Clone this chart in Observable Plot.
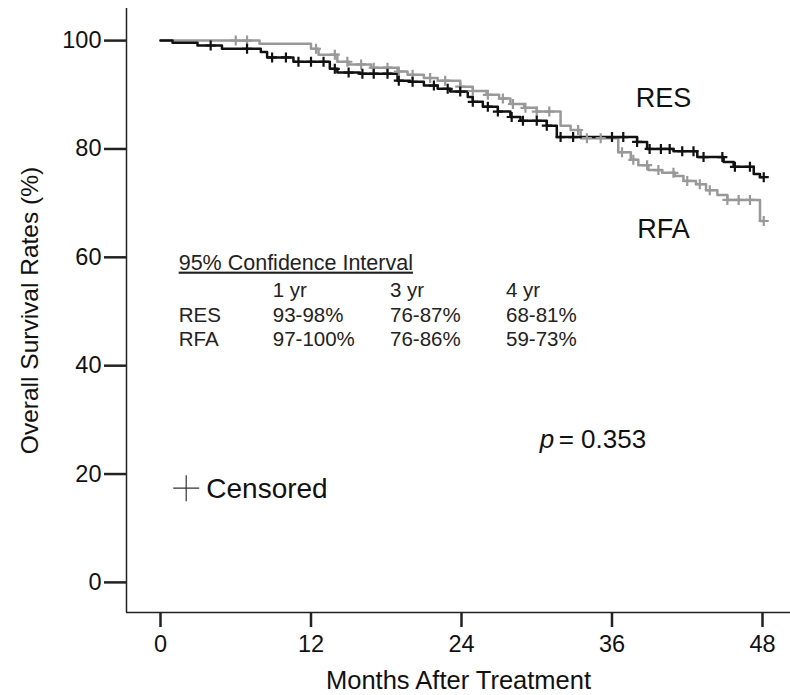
<!DOCTYPE html>
<html><head><meta charset="utf-8">
<script src="https://cdn.jsdelivr.net/npm/d3@7"></script>
<script src="https://cdn.jsdelivr.net/npm/@observablehq/plot@0.6"></script>
<style>
body{margin:0;background:#fff;}
#chart svg{font-family:"Liberation Sans",Arial,sans-serif;background:#fff;}
</style>
</head><body><div id="chart"></div>
<script>
// ---- data ----
const xTicks = [0, 12, 24, 36, 48];
const yTicks = [0, 20, 40, 60, 80, 100];
const xTitle = "Months After Treatment";
const yTitle = "Overall Survival Rates (%)";

// RES (black): event times (months) and survival (%) after each drop
const resTimes = [0.96, 2.95, 4.9, 8.0, 8.5, 10.6, 13.5, 14.1, 15.9, 18.9, 19.9, 21.0, 22.1, 23.1, 24.5, 24.9, 25.7, 26.9, 27.9, 28.7, 30.8, 31.6, 38.0, 38.8, 40.9, 42.8, 44.9, 45.7, 47.3, 47.8];
const resSurv  = [99.6, 99.1, 98.5, 97.9, 96.9, 96.1, 94.8, 94.1, 93.9, 92.6, 92.4, 91.7, 91.1, 90.6, 89.6, 88.7, 87.8, 86.9, 85.9, 85.2, 84.3, 82.2, 81.3, 80.0, 79.6, 78.5, 77.6, 76.7, 75.4, 74.8];
const resEnd = 48.1;
const resCensor = [4.0, 6.9, 8.9, 10.0, 11.0, 12.0, 13.0, 13.9, 15.0, 16.1, 17.0, 18.1, 19.0, 20.1, 21.8, 22.9, 23.9, 24.9, 26.1, 26.9, 28.0, 28.9, 30.0, 30.8, 31.9, 32.9, 36.0, 36.9, 38.0, 39.0, 39.9, 40.6, 41.6, 42.5, 43.3, 44.8, 45.8, 47.0, 48.1];

// RFA (gray)
const rfaTimes = [7.9, 12.0, 12.6, 14.1, 15.0, 16.8, 18.9, 19.7, 21.0, 22.1, 23.9, 24.9, 26.0, 27.0, 27.9, 29.0, 30.0, 31.9, 32.7, 33.5, 36.5, 37.5, 38.1, 38.9, 40.0, 41.0, 41.7, 42.7, 43.5, 44.4, 45.2, 47.8];
const rfaSurv  = [99.4, 98.5, 97.4, 96.1, 95.6, 95.0, 94.3, 93.7, 93.1, 92.6, 91.5, 90.7, 90.0, 89.3, 88.3, 87.6, 86.9, 84.3, 83.5, 82.0, 79.4, 78.0, 77.0, 76.1, 75.6, 75.0, 74.1, 73.5, 72.4, 71.5, 70.6, 66.7];
const rfaEnd = 48.1;
const rfaCensor = [6.0, 6.9, 12.4, 13.9, 14.9, 16.0, 17.0, 18.1, 19.0, 20.1, 21.5, 22.7, 23.9, 24.9, 26.1, 27.3, 28.1, 29.1, 30.0, 31.0, 33.3, 34.0, 35.1, 36.8, 37.7, 38.8, 39.7, 40.9, 42.0, 43.0, 43.8, 45.2, 46.1, 47.0, 48.1];

// annotation text
const groupNames = ["RES", "RFA"];
const ciTitle = "95% Confidence Interval";
const ciYears = ["1 yr", "3 yr", "4 yr"];
const ciRES = ["93-98%", "76-87%", "68-81%"];
const ciRFA = ["97-100%", "76-86%", "59-73%"];
const pLabel = "p";
const pValue = "= 0.353";
const censorLabel = "Censored";

// ---- build tables ----
function stepTable(times, surv, end) {
  const pts = [{t: 0, s: 100}];
  times.forEach((t, i) => pts.push({t, s: surv[i]}));
  pts.push({t: end, s: surv[surv.length - 1]});
  return pts;
}
function survAt(times, surv, t) {
  let s = 100;
  for (let i = 0; i < times.length; i++) if (times[i] <= t) s = surv[i];
  return s;
}
const resLine = stepTable(resTimes, resSurv, resEnd);
const rfaLine = stepTable(rfaTimes, rfaSurv, rfaEnd);
const resMarks = resCensor.map(t => ({t, s: survAt(resTimes, resSurv, t)}));
const rfaMarks = rfaCensor.map(t => ({t, s: survAt(rfaTimes, rfaSurv, t)}));

const plusSym = {draw(ctx, size) {
  const r = Math.sqrt(size / Math.PI);
  ctx.moveTo(-r, 0); ctx.lineTo(r, 0);
  ctx.moveTo(0, -r); ctx.lineTo(0, r);
}};

const xDom = [-2.711, 50.233];
const yDom = [-5.556, 105.926];
const black = "#111", gray = "#999";

// table layout (in data units)
const colX = [1.45, 8.95, 18.3, 27.55];
const rowY = [59.0, 53.9, 49.3, 44.9];
const tableRows = [
  ...ciYears.map((d, i) => ({x: colX[i + 1], y: rowY[1], text: d})),
  {x: colX[0], y: rowY[2], text: groupNames[0]},
  ...ciRES.map((d, i) => ({x: colX[i + 1], y: rowY[2], text: d})),
  {x: colX[0], y: rowY[3], text: groupNames[1]},
  ...ciRFA.map((d, i) => ({x: colX[i + 1], y: rowY[3], text: d}))
];

const chart = Plot.plot({
  width: 790, height: 695,
  marginLeft: 126, marginRight: 0, marginTop: 8, marginBottom: 83,
  x: {domain: xDom},
  y: {domain: yDom},
  style: {fontFamily: "Liberation Sans, Arial, sans-serif", color: "#111"},
  marks: [
    Plot.ruleX([xDom[0]], {stroke: "#222", strokeWidth: 1.5}),
    Plot.ruleY([yDom[0]], {stroke: "#222", strokeWidth: 1.5}),
    Plot.axisX({ticks: xTicks, tickSize: 15, tickPadding: 8, fontSize: 23.5, label: null, stroke: "#222", strokeWidth: 2.5, tickFormat: d => d}),
    Plot.axisY({ticks: yTicks, tickSize: 22, tickPadding: 3, fontSize: 23.5, label: null, stroke: "#222", strokeWidth: 2.5, tickFormat: d => d}),
    Plot.text([xTitle], {frameAnchor: "bottom", dy: 68, lineAnchor: "middle", textAnchor: "middle", fontSize: 25.5, fill: "#111"}),
    Plot.text([yTitle], {frameAnchor: "left", dx: -96, rotate: -90, lineAnchor: "middle", textAnchor: "middle", fontSize: 24.5, fill: "#111"}),
    Plot.line(rfaLine, {x: "t", y: "s", curve: "step-after", stroke: gray, strokeWidth: 2.5}),
    Plot.line(resLine, {x: "t", y: "s", curve: "step-after", stroke: black, strokeWidth: 2.5}),
    Plot.dot(rfaMarks, {x: "t", y: "s", symbol: plusSym, r: 5, stroke: gray, strokeWidth: 2.2, fill: "none"}),
    Plot.dot(resMarks, {x: "t", y: "s", symbol: plusSym, r: 5, stroke: black, strokeWidth: 2.2, fill: "none"}),
    Plot.text([groupNames[0]], {x: 40.1, y: 89.3, fontSize: 27, fill: "#111"}),
    Plot.text([groupNames[1]], {x: 40.1, y: 65.2, fontSize: 27, fill: "#111"}),
    Plot.text([ciTitle], {x: colX[0], y: rowY[0], textAnchor: "start", fontSize: 21.5, fill: "#222"}),
    Plot.text(tableRows, {x: "x", y: "y", text: "text", textAnchor: "start", fontSize: 20.5, fill: "#222"}),
    Plot.text([pLabel], {x: 31.4, y: 26.3, textAnchor: "end", fontSize: 26, fontStyle: "italic", fill: "#111"}),
    Plot.text([pValue], {x: 31.75, y: 26.3, textAnchor: "start", fontSize: 26, fill: "#111"}),
    Plot.dot([0], {x: 2.05, y: 17.4, symbol: plusSym, r: 13, stroke: "#333", strokeWidth: 1.2, fill: "none"}),
    Plot.text([censorLabel], {x: 3.65, y: 17.2, textAnchor: "start", fontSize: 28, fill: "#111"})
  ]
});
document.getElementById("chart").appendChild(chart);
d3.select(chart).selectAll("text").filter(function(){ return this.textContent === ciTitle; })
  .style("text-decoration", "underline");
</script>
</body></html>
